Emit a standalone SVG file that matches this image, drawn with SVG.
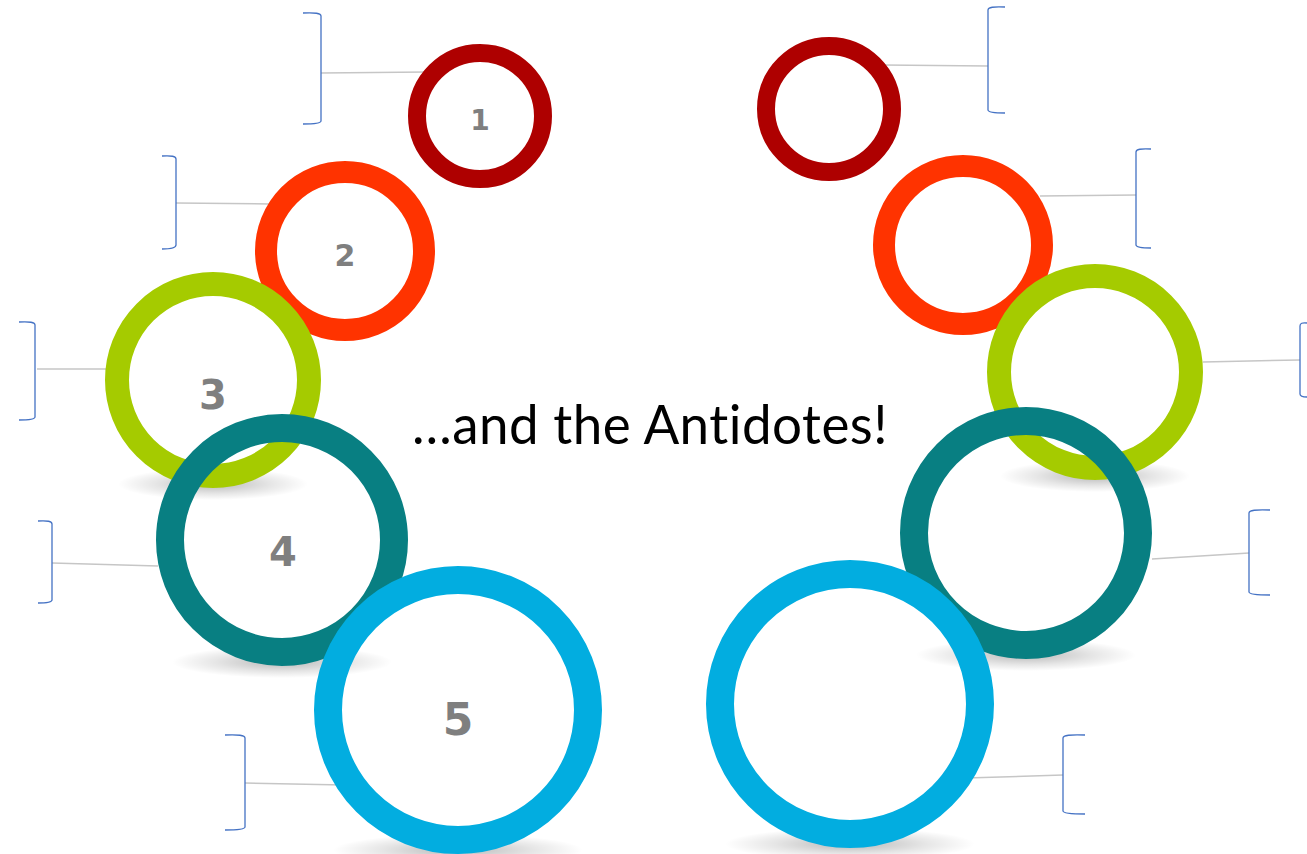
<svg xmlns="http://www.w3.org/2000/svg" width="1307" height="854" viewBox="0 0 1307 854">
<defs>
<radialGradient id="sh" cx="0.5" cy="0.5" r="0.5">
<stop offset="0" stop-color="#000" stop-opacity="0.28"/>
<stop offset="0.6" stop-color="#000" stop-opacity="0.1"/>
<stop offset="1" stop-color="#000" stop-opacity="0"/>
</radialGradient>
</defs>
<style>
.ring{fill:none}
.num{font-family:"DejaVu Sans",Verdana,sans-serif;font-weight:bold;fill:#7f7f7f;text-anchor:middle}
.br{fill:none;stroke:#4472c4;stroke-width:1.3}
.cn{fill:none;stroke:#c6c6c6;stroke-width:1.5}
.shadow{fill:url(#sh)}
.title{font-family:Lato,"DejaVu Sans",sans-serif;font-variant-ligatures:none;font-feature-settings:"liga" 0,"clig" 0,"dlig" 0;letter-spacing:0.5px;fill:#000;text-anchor:middle}
</style>
<rect width="1307" height="854" fill="#fff"/>
<g id="shadows">
<ellipse class="shadow" cx="213" cy="484" rx="95" ry="16"/>
<ellipse class="shadow" cx="282" cy="662" rx="110" ry="16"/>
<ellipse class="shadow" cx="458" cy="850" rx="125" ry="16"/>
<ellipse class="shadow" cx="1095" cy="476" rx="95" ry="16"/>
<ellipse class="shadow" cx="1026" cy="655" rx="110" ry="16"/>
<ellipse class="shadow" cx="850" cy="844" rx="125" ry="16"/>
</g>
<g id="connectors">
<line class="cn" x1="321" y1="73" x2="427" y2="72"/>
<line class="cn" x1="176" y1="203" x2="270" y2="204"/>
<line class="cn" x1="37" y1="369" x2="107" y2="369"/>
<line class="cn" x1="52" y1="563" x2="158" y2="566"/>
<line class="cn" x1="245" y1="783" x2="344" y2="785"/>
<line class="cn" x1="883" y1="65" x2="988" y2="66"/>
<line class="cn" x1="1040" y1="196" x2="1136" y2="195"/>
<line class="cn" x1="1203" y1="362" x2="1300" y2="360"/>
<line class="cn" x1="1152" y1="559" x2="1249" y2="553"/>
<line class="cn" x1="966" y1="778" x2="1063" y2="775"/>
</g>
<g id="brackets">
<path class="br" d="M303,13 Q321,12 321,16 V121 Q321,124 303,124"/>
<path class="br" d="M162,156 Q176,155 176,159 V245 Q176,249 162,249"/>
<path class="br" d="M19,322 Q35,321 35,325 V417 Q35,420 19,420"/>
<path class="br" d="M38,521 Q52,520 52,524 V600 Q52,603 38,603"/>
<path class="br" d="M225,735 Q245,734 245,738 V827 Q245,830 225,830"/>
<path class="br" d="M1005,7 Q988,6 988,10 V110 Q988,113 1005,113"/>
<path class="br" d="M1151,149 Q1136,148 1136,152 V245 Q1136,248 1151,248"/>
<path class="br" d="M1307,323 Q1300,322 1300,326 V394 Q1300,397 1307,397"/>
<path class="br" d="M1270,510 Q1249,509 1249,513 V592 Q1249,595 1270,595"/>
<path class="br" d="M1085,735 Q1063,734 1063,738 V811 Q1063,814 1085,814"/>
</g>
<g id="node1"><circle class="ring" cx="480" cy="116" r="63" stroke="#ae0000" stroke-width="18"/><text class="num" x="480" y="130" font-size="28">1</text></g>
<g id="node2"><circle class="ring" cx="345" cy="251" r="79" stroke="#ff3300" stroke-width="22"/><text class="num" x="345" y="266" font-size="30">2</text></g>
<g id="node3"><circle class="ring" cx="213" cy="380" r="96" stroke="#a5cb00" stroke-width="24"/><text class="num" x="213" y="409" font-size="40">3</text></g>
<g id="node4"><circle class="ring" cx="282" cy="540" r="112" stroke="#087f82" stroke-width="28"/><text class="num" x="283" y="566" font-size="40">4</text></g>
<g id="node5"><circle class="ring" cx="458" cy="710" r="130" stroke="#02ade0" stroke-width="28"/><text class="num" x="458" y="735" font-size="44">5</text></g>
<g id="nodeR1"><circle class="ring" cx="829" cy="109" r="63" stroke="#ae0000" stroke-width="18"/></g>
<g id="nodeR2"><circle class="ring" cx="963" cy="245" r="79" stroke="#ff3300" stroke-width="22"/></g>
<g id="nodeR3"><circle class="ring" cx="1095" cy="372" r="96" stroke="#a5cb00" stroke-width="24"/></g>
<g id="nodeR4"><circle class="ring" cx="1026" cy="533" r="112" stroke="#087f82" stroke-width="28"/></g>
<g id="nodeR5"><circle class="ring" cx="850" cy="704" r="130" stroke="#02ade0" stroke-width="28"/></g>
<g id="title"><text class="title" x="650" y="444" font-size="54" textLength="476" lengthAdjust="spacingAndGlyphs">…and the Antidotes!</text></g>
</svg>
